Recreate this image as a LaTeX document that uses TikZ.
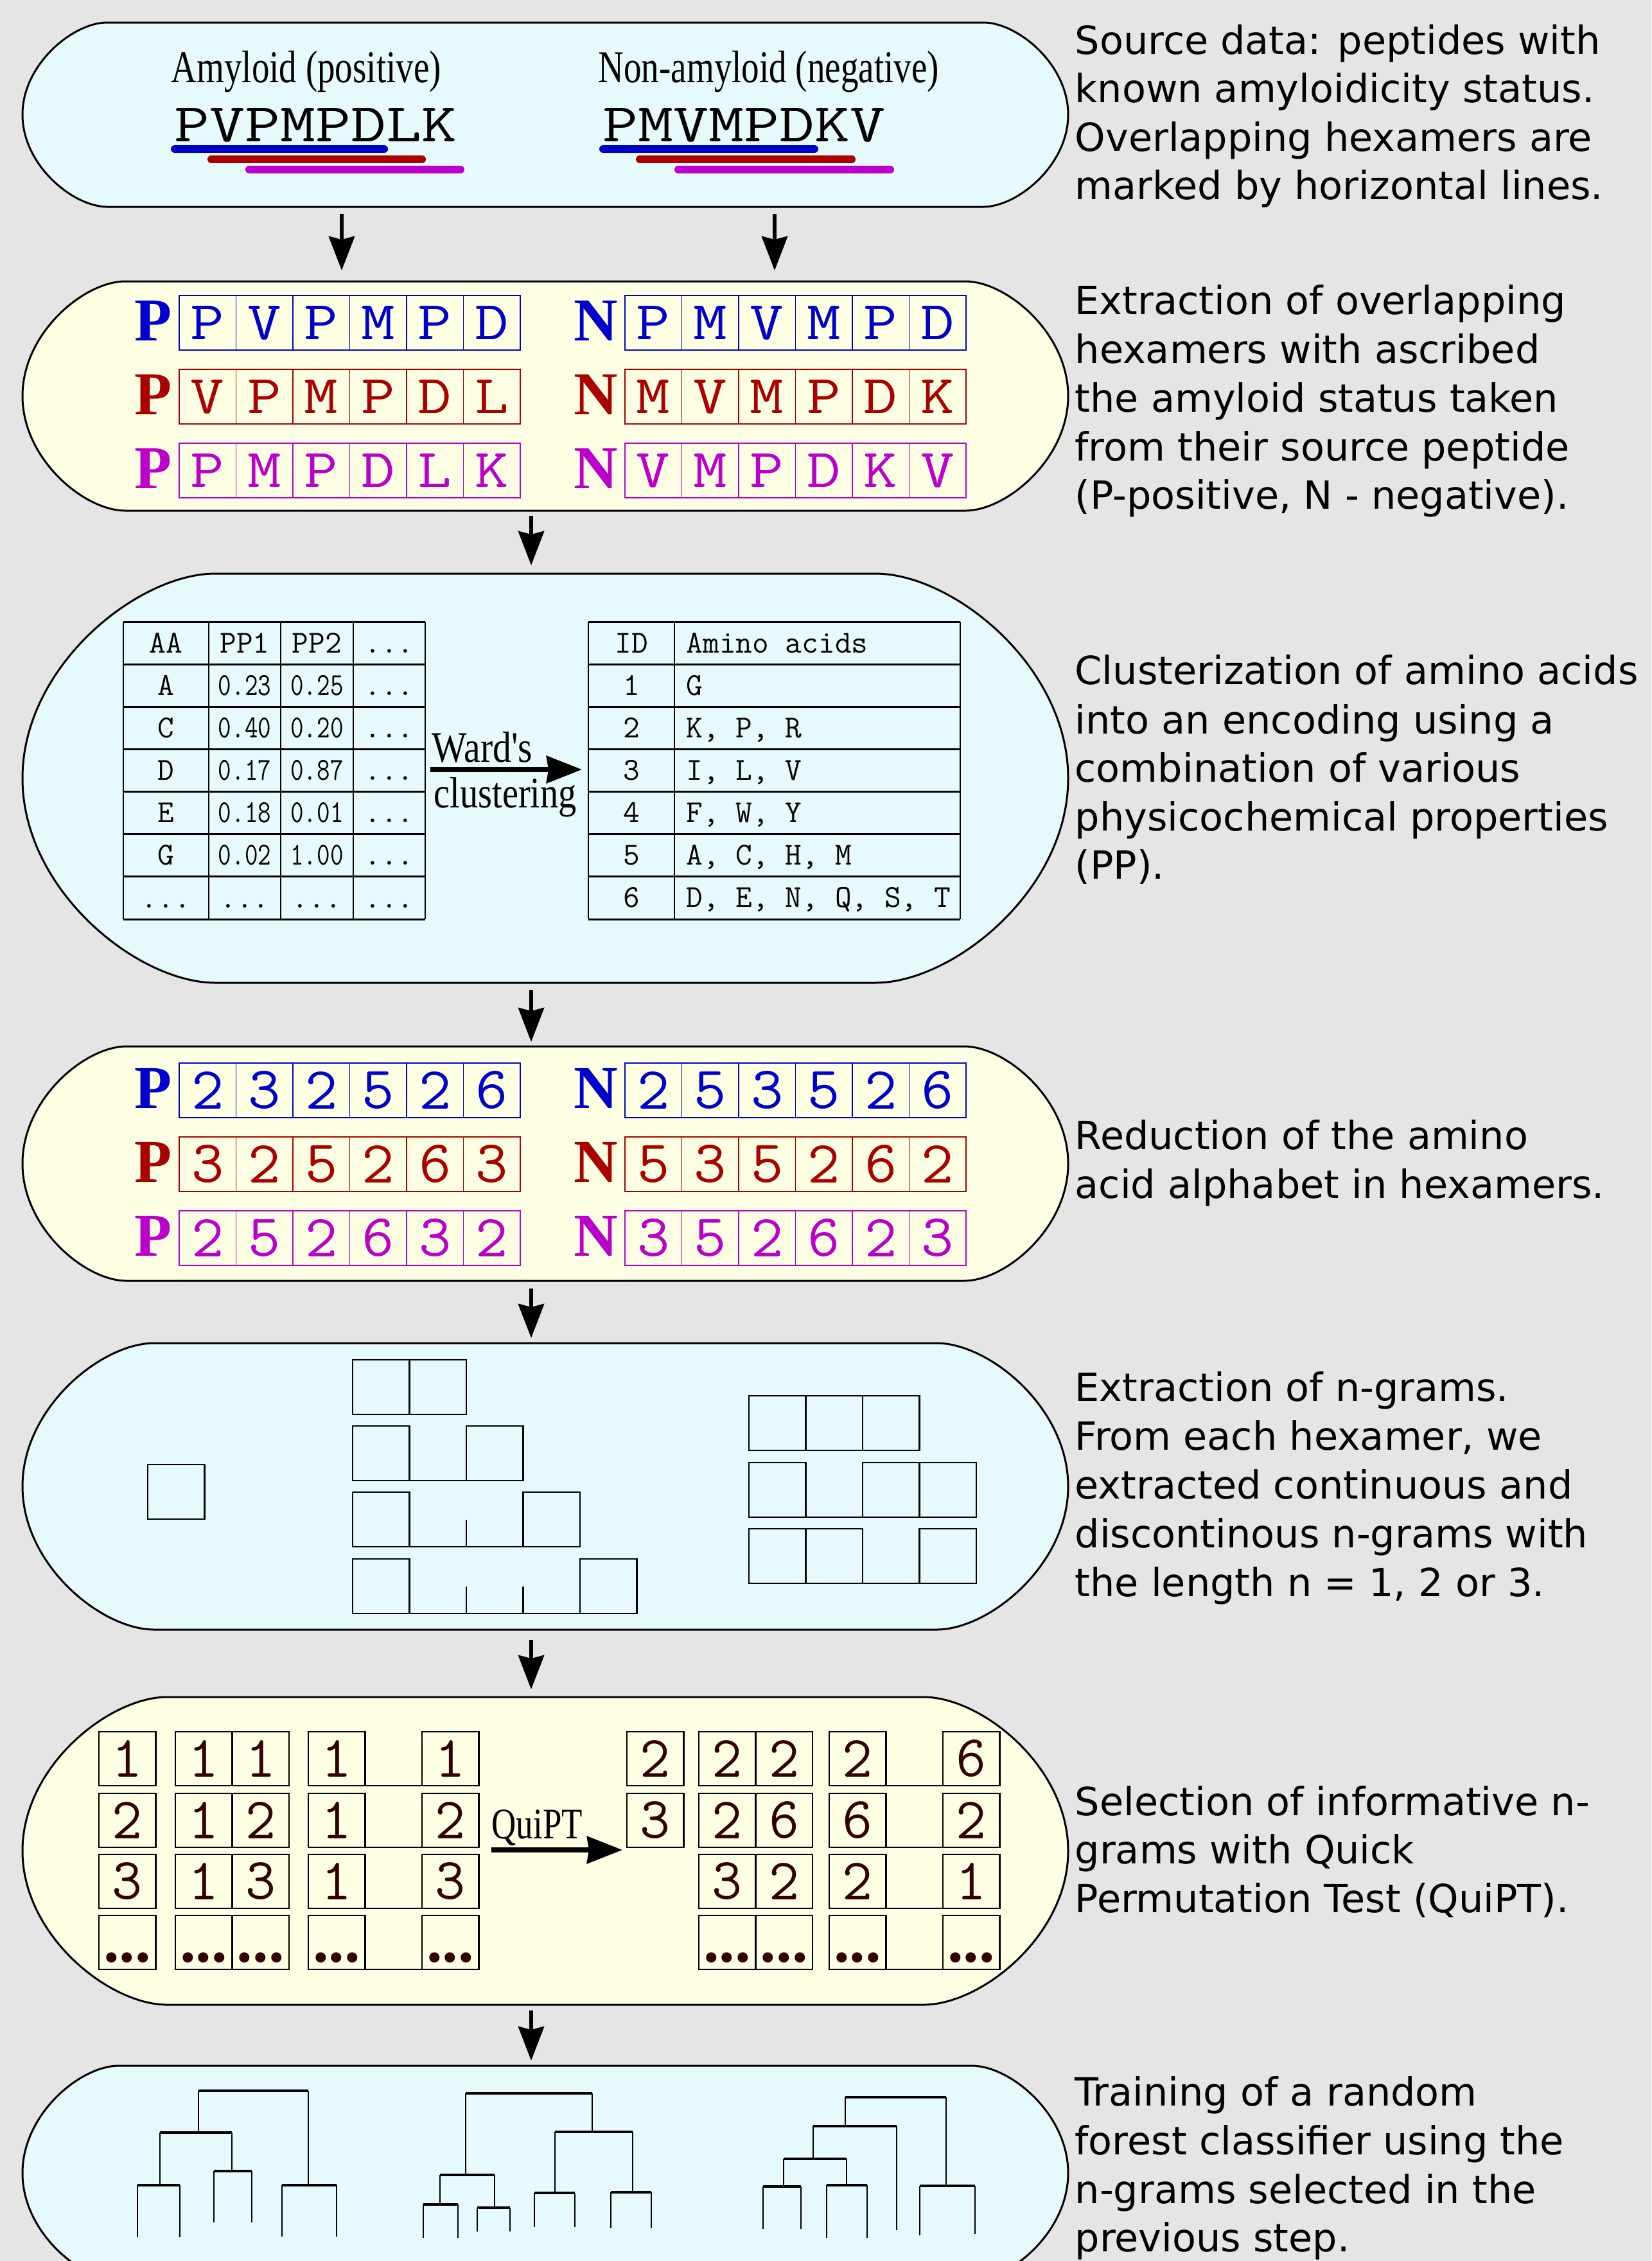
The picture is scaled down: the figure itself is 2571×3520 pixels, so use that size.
\documentclass[tikz,border=0pt]{standalone}
\usepackage{fontspec}
\usepackage{graphicx}
\usetikzlibrary{arrows.meta}
\newfontfamily\descfont{DejaVu Sans}
\newfontfamily\serifr{Liberation Serif}
\definecolor{bgc}{HTML}{E5E5E5}
\definecolor{cyanf}{HTML}{E6FAFC}
\definecolor{yelf}{HTML}{FFFFE3}
\definecolor{cblue}{HTML}{0000CC}
\definecolor{cred}{HTML}{AA0000}
\definecolor{cpur}{HTML}{BB00CC}
\definecolor{cbrown}{HTML}{330000}
\tikzset{
  box/.style={draw=black,line width=0.3mm},
  cyanbox/.style={box,fill=cyanf},
  yelbox/.style={box,fill=yelf},
  desc/.style={anchor=base west,inner sep=0pt,font=\descfont\fontsize{17.2pt}{21pt}\selectfont},
  flow/.style={line width=0.6mm,-{Stealth[length=5.3mm,width=4mm,inset=0.5mm]}},
  harr/.style={line width=0.75mm,-{Stealth[length=5.5mm,width=4.2mm,inset=0.3mm]}},
  lbl/.style={inner sep=0pt,anchor=base west,font=\serifr\fontsize{20.2pt}{20.2pt}\selectfont},
  seq/.style={inner sep=0pt,anchor=base west,font=\ttfamily\fontsize{24.2pt}{24.2pt}\selectfont},
  hbar/.style={line width=1.2mm,line cap=round},
  pn/.style={inner sep=0pt,anchor=base west,font=\serifr\bfseries\fontsize{27pt}{27pt}\selectfont},
  cellt/.style={inner sep=0pt,font=\ttfamily\fontsize{24.2pt}{24.2pt}\selectfont},
  tb/.style={inner sep=0pt,anchor=base,font=\ttfamily\fontsize{14.2pt}{14.2pt}\selectfont},
  tbl/.style={tb,anchor=base west},
  hgrid/.style={line width=0.3mm},
  vgrid/.style={line width=0.2mm},
  ng/.style={line width=0.22mm},
  numt/.style={inner sep=0pt,text=cbrown,font=\ttfamily\fontsize{26pt}{26pt}\selectfont},
  dott/.style={inner sep=0pt,anchor=base,text=cbrown,font=\serifr\bfseries\fontsize{28pt}{28pt}\selectfont},
  tbar/.style={line width=0.45mm},
  tline/.style={line width=0.2mm},
}
% stadium box: #1 style, #2 xl, #3 xr, #4 top, #5 bottom, #6 w
\newcommand\stadium[6]{%
  \path[#1] ({#2+#6},#4) -- ({#3-#6},#4)
   .. controls ({#3-0.6*#6},#4) and (#3,{#4+0.225*(#5-#4)}) .. (#3,{(#4+#5)/2})
   .. controls (#3,{#5-0.225*(#5-#4)}) and ({#3-0.6*#6},#5) .. ({#3-#6},#5)
   -- ({#2+#6},#5)
   .. controls ({#2+0.6*#6},#5) and (#2,{#5-0.225*(#5-#4)}) .. (#2,{(#4+#5)/2})
   .. controls (#2,{#4+0.225*(#5-#4)}) and ({#2+0.6*#6},#4) .. cycle;}
% hexamer row: #1 name, #2 x0, #3 y0, #4 colour, #5 xscale, #6 list
\newcommand\hexrow[6]{%
  \draw[#4,line width=0.22mm] (#2,#3) rectangle ({#2+531},{#3+85});
  \foreach \kk in {1,...,5}{\draw[#4,line width=0.15mm] ({#2+\kk*88.5},#3) -- ({#2+\kk*88.5},{#3+85});}
  \foreach \cc [count=\ii] in {#6}{\node[cellt,text=#4] (#1\ii) at ({#2+(\ii-0.5)*88.5},{#3+42.5}) {\scalebox{#5}[1]{\cc}};}
}
% n-gram cells
\newcommand\ec[2]{\draw[ng] (#1,#2) rectangle ({#1+88.5},{#2+85});}
\newcommand\eg[2]{\draw[ng] (#1,{#2+85}) -- ({#1+88.5},{#2+85});}
\newcommand\et[2]{\draw[ng] (#1,{#2+43}) -- (#1,{#2+85});}
% numbered cells
\newcommand\nc[4]{\draw[ng] (#2,#3) rectangle ({#2+88.5},{#3+84});
  \node[numt] (#1) at ({#2+44.25},{#3+42}) {#4};}
\newcommand\nd[3]{\draw[ng] (#2,#3) rectangle ({#2+88.5},{#3+84});
  \node[dott] (#1) at ({#2+44.25},{#3+72}) {...};}
\newcommand\ngap[2]{\draw[ng] (#1,{#2+84}) -- ({#1+88.5},{#2+84});}
% tree pieces
\newcommand\tb[3]{\draw[tbar] (#1,#3) -- (#2,#3);}
\newcommand\tv[3]{\draw[tline] (#1,#2) -- (#1,#3);}
\begin{document}
\begin{tikzpicture}[x=0.1mm,y=-0.1mm]
\useasboundingbox (0,0) rectangle (2571,3520);
\fill[bgc] (0,0) rectangle (2571,3520);

% ---------- boxes ----------
\stadium{cyanbox}{35}{1663}{35}{322}{132}
\stadium{yelbox}{35}{1663}{438}{795}{160}
\stadium{cyanbox}{35}{1663}{893}{1530}{300}
\stadium{yelbox}{35}{1663}{1629}{1994}{162}
\stadium{cyanbox}{35}{1663}{2091}{2537}{205}
\stadium{yelbox}{35}{1663}{2642}{3121}{225}
\begin{scope}
\clip (0,0) rectangle (2571,3520);
\stadium{cyanbox}{35}{1663}{3216}{3550}{150}
\end{scope}

% ---------- arrows ----------
\coordinate (a1s) at (532,333);  \coordinate (a1e) at (532,421);
\coordinate (a2s) at (1206,333); \coordinate (a2e) at (1206,421);
\coordinate (a3s) at (827,803);  \coordinate (a3e) at (827,880);
\coordinate (a4s) at (827,1541); \coordinate (a4e) at (827,1622);
\coordinate (a5s) at (827,2006); \coordinate (a5e) at (827,2083);
\coordinate (a6s) at (827,2553); \coordinate (a6e) at (827,2630);
\coordinate (a7s) at (827,3130); \coordinate (a7e) at (827,3208);
\foreach \aa in {1,...,7}{\draw[flow] (a\aa s) -- (a\aa e);}

% ---------- box 1 ----------
\node[lbl] (amy) at (266,128) {\scalebox{0.775}[1]{Amyloid (positive)}};
\node[lbl] (namy) at (931,128) {\scalebox{0.775}[1]{Non-amyloid (negative)}};
\node[seq] (seqp) at (271,220) {\scalebox{1.255}[1]{PVPMPDLK}};
\node[seq] (seqn) at (938,220) {\scalebox{1.255}[1]{PMVMPDKV}};
\draw[hbar,cblue] (272,232) -- (598,232);
\draw[hbar,cred] (329,248) -- (657,248);
\draw[hbar,cpur] (388,264) -- (717,264);
\draw[hbar,cblue] (939,232) -- (1268,232);
\draw[hbar,cred] (996,248) -- (1326,248);
\draw[hbar,cpur] (1056,264) -- (1386,264);

% ---------- box 2 ----------
\node[pn,text=cblue] (b2p1) at (209,530) {P};
\node[pn,text=cred]  (b2p2) at (209,645) {P};
\node[pn,text=cpur]  (b2p3) at (209,760) {P};
\node[pn,text=cblue] (b2n1) at (893,530) {N};
\node[pn,text=cred]  (b2n2) at (893,645) {N};
\node[pn,text=cpur]  (b2n3) at (893,760) {N};
\hexrow{hpa}{279}{460}{cblue}{1.2}{P,V,P,M,P,D}
\hexrow{hpb}{279}{575}{cred}{1.2}{V,P,M,P,D,L}
\hexrow{hpc}{279}{690}{cpur}{1.2}{P,M,P,D,L,K}
\hexrow{hna}{973}{460}{cblue}{1.2}{P,M,V,M,P,D}
\hexrow{hnb}{973}{575}{cred}{1.2}{M,V,M,P,D,K}
\hexrow{hnc}{973}{690}{cpur}{1.2}{V,M,P,D,K,V}

% ---------- box 3 ----------
\foreach \kk in {0,...,7}{\draw[hgrid] (192,{968+66.14*\kk}) -- (662,{968+66.14*\kk});}
\foreach \xx in {192,325,437,550,662}{\draw[vgrid] (\xx,968) -- (\xx,1431);}
\foreach \kk in {0,...,7}{\draw[hgrid] (916,{968+66.14*\kk}) -- (1495,{968+66.14*\kk});}
\foreach \xx in {916,1050,1495}{\draw[vgrid] (\xx,968) -- (\xx,1431);}
\node[tb] (lh1) at (258.5,1016) {AA};
\node[tb] (lh2) at (381,1016) {PP1};
\node[tb] (lh3) at (493.5,1016) {PP2};
\node[tb] (lh4) at (606,1016) {...};
\foreach \ra/\rb/\rc [count=\rr] in {A/0.23/0.25, C/0.40/0.20, D/0.17/0.87, E/0.18/0.01, G/0.02/1.00}{
  \node[tb] (la\rr) at (258.5,{1016+66.14*\rr}) {\ra};
  \node[tb] (lb\rr) at (381,{1016+66.14*\rr}) {\scalebox{0.8}[1]{\rb}};
  \node[tb] (lc\rr) at (493.5,{1016+66.14*\rr}) {\scalebox{0.8}[1]{\rc}};
  \node[tb] (ld\rr) at (606,{1016+66.14*\rr}) {...};
}
\node[tb] (le1) at (258.5,1413) {...};
\node[tb] (le2) at (381,1413) {...};
\node[tb] (le3) at (493.5,1413) {...};
\node[tb] (le4) at (606,1413) {...};
\foreach \nn/\txt [count=\rr from 0] in {ID/Amino acids, 1/G, 2/{K, P, R}, 3/{I, L, V}, 4/{F, W, Y}, 5/{A, C, H, M}, 6/{D, E, N, Q, S, T}}{
  \node[tb] (ri\rr) at (983,{1016+66.14*\rr}) {\nn};
  \node[tbl] (rt\rr) at (1068,{1016+66.14*\rr}) {\txt};
}
\node[lbl,font=\serifr\fontsize{19.3pt}{19.3pt}\selectfont] (ward1) at (672,1186) {\scalebox{0.85}[1]{Ward's}};
\node[lbl,font=\serifr\fontsize{19.3pt}{19.3pt}\selectfont] (ward2) at (675,1257) {\scalebox{0.83}[1]{clustering}};
\coordinate (wa) at (670,1198); \coordinate (wb) at (906,1198);
\draw[harr] (wa) -- (wb);

% ---------- box 4 ----------
\node[pn,text=cblue] (b4p1) at (209,1725) {P};
\node[pn,text=cred]  (b4p2) at (209,1840) {P};
\node[pn,text=cpur]  (b4p3) at (209,1955) {P};
\node[pn,text=cblue] (b4n1) at (893,1725) {N};
\node[pn,text=cred]  (b4n2) at (893,1840) {N};
\node[pn,text=cpur]  (b4n3) at (893,1955) {N};
\begin{scope}[cellt/.append style={font=\ttfamily\fontsize{26.5pt}{26.5pt}\selectfont}]
\hexrow{dpa}{279}{1655}{cblue}{1.05}{2,3,2,5,2,6}
\hexrow{dpb}{279}{1770}{cred}{1.05}{3,2,5,2,6,3}
\hexrow{dpc}{279}{1885}{cpur}{1.05}{2,5,2,6,3,2}
\hexrow{dna}{973}{1655}{cblue}{1.05}{2,5,3,5,2,6}
\hexrow{dnb}{973}{1770}{cred}{1.05}{5,3,5,2,6,2}
\hexrow{dnc}{973}{1885}{cpur}{1.05}{3,5,2,6,2,3}
\end{scope}

% ---------- box 5 ----------
\ec{230}{2280}
\ec{549}{2117}\ec{637.5}{2117}
\ec{549}{2220}\eg{637.5}{2220}\ec{726}{2220}
\ec{549}{2323}\eg{637.5}{2323}\eg{726}{2323}\ec{814.5}{2323}\et{726}{2323}
\ec{549}{2427}\eg{637.5}{2427}\eg{726}{2427}\eg{814.5}{2427}\ec{903}{2427}\et{726}{2427}\et{814.5}{2427}
\ec{1166}{2173}\ec{1254.5}{2173}\ec{1343}{2173}
\ec{1166}{2277}\eg{1254.5}{2277}\ec{1343}{2277}\ec{1431.5}{2277}
\ec{1166}{2380}\ec{1254.5}{2380}\eg{1343}{2380}\ec{1431.5}{2380}

% ---------- box 6 ----------
\foreach \yy/\sa/\pa/\pb/\ga/\gb [count=\rr] in {2696/1/1/1/1/1, 2792/2/1/2/1/2, 2887/3/1/3/1/3}{
  \nc{ls\rr}{154}{\yy}{\sa}
  \nc{lpa\rr}{273}{\yy}{\pa}\nc{lpb\rr}{361.5}{\yy}{\pb}
  \nc{lga\rr}{480}{\yy}{\ga}\ngap{568.5}{\yy}\nc{lgb\rr}{657}{\yy}{\gb}
}
\nd{ls4}{154}{2982}
\nd{lpa4}{273}{2982}\nd{lpb4}{361.5}{2982}
\nd{lga4}{480}{2982}\ngap{568.5}{2982}\nd{lgb4}{657}{2982}
\foreach \yy/\sa/\pa/\pb/\ga/\gb [count=\rr] in {2696/2/2/2/2/6, 2792/3/2/6/6/2}{
  \nc{rs\rr}{976}{\yy}{\sa}
  \nc{rpa\rr}{1088}{\yy}{\pa}\nc{rpb\rr}{1176.5}{\yy}{\pb}
  \nc{rga\rr}{1291}{\yy}{\ga}\ngap{1379.5}{\yy}\nc{rgb\rr}{1468}{\yy}{\gb}
}
\nc{rpa3}{1088}{2887}{3}\nc{rpb3}{1176.5}{2887}{2}
\nc{rga3}{1291}{2887}{2}\ngap{1379.5}{2887}\nc{rgb3}{1468}{2887}{1}
\nd{rpa4}{1088}{2982}\nd{rpb4}{1176.5}{2982}
\nd{rga4}{1291}{2982}\ngap{1379.5}{2982}\nd{rgb4}{1468}{2982}
\node[lbl,font=\serifr\fontsize{19.3pt}{19.3pt}\selectfont] (quipt) at (765,2862) {\scalebox{0.78}[1]{QuiPT}};
\coordinate (qa) at (765,2880); \coordinate (qb) at (969,2880);
\draw[harr] (qa) -- (qb);

% ---------- box 7: trees ----------
\tv{309}{3255}{3320}\tv{480}{3255}{3402}\tv{249}{3320}{3402}\tv{361}{3320}{3380}
\tv{214}{3402}{3483}\tv{280}{3402}{3483}\tv{333}{3380}{3460}\tv{392}{3380}{3460}
\tv{439}{3402}{3482}\tv{524}{3402}{3482}
\tb{309}{480}{3255}\tb{249}{361}{3320}\tb{214}{280}{3402}\tb{333}{392}{3380}\tb{439}{524}{3402}
\tv{725}{3259}{3386}\tv{922}{3259}{3319}\tv{685}{3386}{3432}\tv{770}{3386}{3437}
\tv{659}{3432}{3484}\tv{713}{3432}{3484}\tv{743}{3437}{3474}\tv{794}{3437}{3474}
\tv{864}{3319}{3414}\tv{985}{3319}{3413}\tv{832}{3414}{3467}\tv{895}{3414}{3467}
\tv{951}{3413}{3469}\tv{1014}{3413}{3469}
\tb{725}{922}{3259}\tb{685}{770}{3386}\tb{864}{985}{3319}\tb{659}{713}{3432}
\tb{743}{794}{3437}\tb{832}{895}{3414}\tb{951}{1014}{3413}
\tv{1316}{3265}{3310}\tv{1473}{3265}{3403}\tv{1266}{3310}{3361}\tv{1396}{3310}{3472}
\tv{1432}{3403}{3480}\tv{1518}{3403}{3478}\tv{1220}{3361}{3404}\tv{1318}{3361}{3402}
\tv{1188}{3404}{3470}\tv{1247}{3404}{3470}\tv{1287}{3402}{3484}\tv{1350}{3402}{3484}
\tb{1316}{1473}{3265}\tb{1266}{1396}{3310}\tb{1432}{1518}{3403}\tb{1220}{1318}{3361}
\tb{1188}{1247}{3404}\tb{1287}{1350}{3402}

% ---------- descriptions ----------
\node[desc] (d1a) at (1673,84) {Source data: peptides with};
\node[desc] (d1b) at (1673,159) {known amyloidicity status.};
\node[desc] (d1c) at (1673,235) {Overlapping hexamers are};
\node[desc] (d1d) at (1673,310) {marked by horizontal lines.};
\node[desc] (d2a) at (1673,489) {Extraction of overlapping};
\node[desc] (d2b) at (1673,565) {hexamers with ascribed};
\node[desc] (d2c) at (1673,641) {the amyloid status taken};
\node[desc] (d2d) at (1673,717) {from their source peptide};
\node[desc] (d2e) at (1673,792) {(P-positive, N - negative).};
\node[desc] (d3a) at (1673,1065) {Clusterization of amino acids};
\node[desc] (d3b) at (1673,1142) {into an encoding using a};
\node[desc] (d3c) at (1673,1217) {combination of various};
\node[desc] (d3d) at (1673,1293) {physicochemical properties};
\node[desc] (d3e) at (1673,1368) {(PP).};
\node[desc] (d4a) at (1673,1789) {Reduction of the amino};
\node[desc] (d4b) at (1673,1865) {acid alphabet in hexamers.};
\node[desc] (d5a) at (1673,2181) {Extraction of n-grams.};
\node[desc] (d5b) at (1673,2257) {From each hexamer, we};
\node[desc] (d5c) at (1673,2333) {extracted continuous and};
\node[desc] (d5d) at (1673,2409) {discontinous n-grams with};
\node[desc] (d5e) at (1673,2485) {the length n = 1, 2 or 3.};
\node[desc] (d6a) at (1673,2826) {Selection of informative n-};
\node[desc] (d6b) at (1673,2901) {grams with Quick};
\node[desc] (d6c) at (1673,2977) {Permutation Test (QuiPT).};
\node[desc] (d7a) at (1673,3278) {Training of a random};
\node[desc] (d7b) at (1673,3354) {forest classifier using the};
\node[desc] (d7c) at (1673,3430) {n-grams selected in the};
\node[desc] (d7d) at (1673,3505) {previous step.};
\end{tikzpicture}
\end{document}
